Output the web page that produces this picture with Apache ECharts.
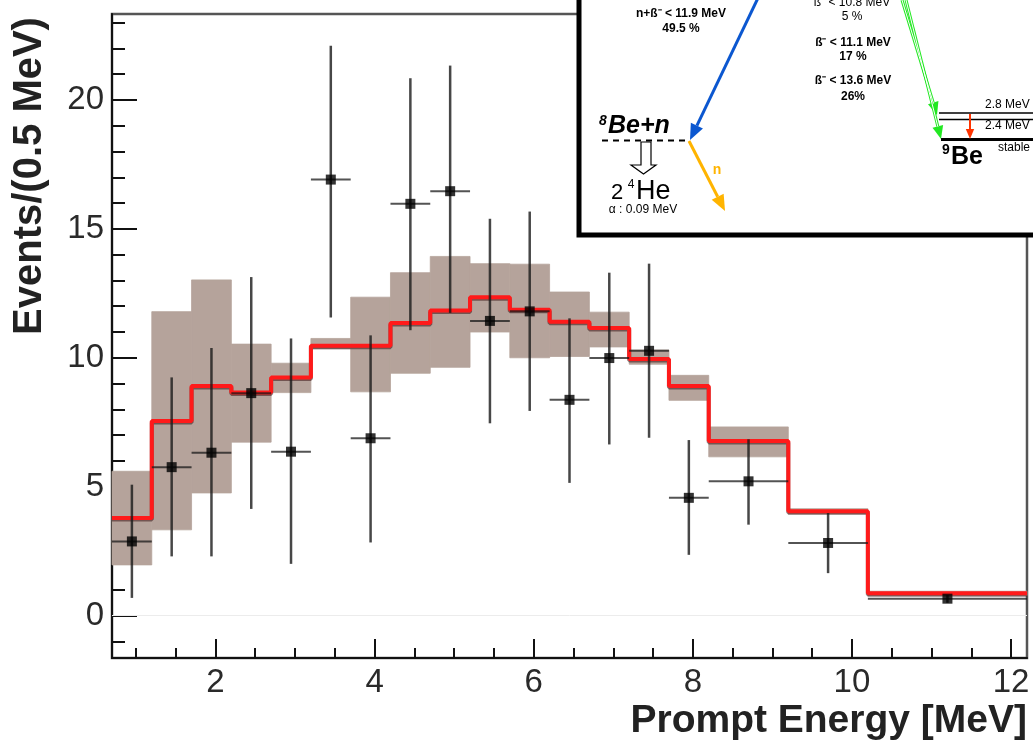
<!DOCTYPE html>
<html>
<head>
<meta charset="utf-8">
<script src="https://cdn.jsdelivr.net/npm/echarts@6/dist/echarts.min.js"></script>
<style>
html, body { margin: 0; padding: 0; background: #fff; }
#main { width: 1033px; height: 749px; }
</style>
</head>
<body>
<div id="main"></div>
<script>
// histogram bin edges [MeV]
const binEdges = [0.7, 1.2, 1.7, 2.2, 2.7, 3.2, 3.7, 4.2, 4.7, 5.2, 5.7, 6.2, 6.7, 7.2, 7.7, 8.2, 9.2, 10.2, 12.2];
// MC prediction (red histogram), one per bin
const mcValues = [3.79, 7.55, 8.91, 8.65, 9.24, 10.47, 10.47, 11.35, 11.83, 12.35, 11.86, 11.4, 11.16, 9.95, 8.91, 6.77, 4.05, 0.87];
// systematic band
const bandLow = [1.97, 3.33, 4.76, 6.73, 8.65, 10.35, 8.68, 9.4, 9.63, 11.0, 10.0, 10.05, 10.42, 9.75, 8.35, 6.16, 3.95, 0.78];
const bandHigh = [5.6, 11.79, 13.02, 10.53, 9.79, 10.75, 12.35, 13.3, 13.93, 13.65, 13.63, 12.55, 11.77, 10.3, 9.32, 7.32, 4.15, 0.95];
// data points
const dataX = [0.95, 1.45, 1.95, 2.45, 2.95, 3.45, 3.95, 4.45, 4.95, 5.45, 5.95, 6.45, 6.95, 7.45, 7.95, 8.7, 9.7, 11.2];
const dataY = [2.88, 5.76, 6.32, 8.63, 6.36, 16.91, 6.88, 15.97, 16.46, 11.43, 11.8, 8.37, 9.99, 10.27, 4.57, 5.21, 2.82, 0.66];
const errLow = [0.69, 2.3, 2.3, 4.14, 2.01, 11.56, 2.84, 11.07, 11.74, 7.46, 7.94, 5.15, 6.64, 6.9, 2.36, 3.53, 1.65, 0.5];
const errHigh = [5.08, 9.24, 10.38, 13.13, 10.75, 22.1, 10.87, 20.84, 21.33, 15.39, 15.67, 11.53, 13.3, 13.65, 6.81, 6.84, 3.98, 0.8];
// axis ticks
const xMajorTicks = [2, 4, 6, 8, 10, 12];
const xMinorTicks = [1, 1.5, 2.5, 3, 3.5, 4.5, 5, 5.5, 6.5, 7, 7.5, 8.5, 9, 9.5, 10.5, 11, 11.5];
const yMajorTicks = [0, 5, 10, 15, 20];
const yMinorTicks = [-1, 1, 2, 3, 4, 6, 7, 8, 9, 11, 12, 13, 14, 16, 17, 18, 19, 21, 22, 23];

const FONT = '"Liberation Sans", Arial, Helvetica, sans-serif';

let chart = echarts.init(document.getElementById('main'));

// step line points: left edge of each bin + closing right edge
let stepData = binEdges.map((e, i) => [e, mcValues[Math.min(i, mcValues.length - 1)]]);
let bandData = bandLow.map((lo, i) => [binEdges[i], binEdges[i + 1], lo, bandHigh[i]]);
let errData = dataX.map((x, i) => {
  let j = binEdges.findIndex((e, k) => x >= e && x < binEdges[k + 1]);
  return [x, dataY[i], errLow[i], errHigh[i], binEdges[j], binEdges[j + 1]];
});

function arrow(x1, y1, x2, y2, color, w, head) {
  let ang = Math.atan2(y2 - y1, x2 - x1);
  let bx = x2 - head * Math.cos(ang), by = y2 - head * Math.sin(ang);
  let hw = head * 0.42;
  let px = -Math.sin(ang) * hw, py = Math.cos(ang) * hw;
  return [
    { type: 'line', z: 101, shape: { x1: x1, y1: y1, x2: bx, y2: by }, style: { stroke: color, lineWidth: w } },
    { type: 'polygon', z: 101, shape: { points: [[x2, y2], [bx + px, by + py], [bx - px, by - py]] }, style: { fill: color } }
  ];
}
function txt(x, y, text, font, color, align) {
  return { type: 'text', z: 102, x: x, y: y,
    style: { text: text, font: font, fill: color || '#000', textAlign: align || 'center', textVerticalAlign: 'middle' } };
}

// inset: decay scheme
let inset = [
  { type: 'rect', z: 100, shape: { x: 579, y: -10, width: 470, height: 245 }, style: { fill: '#fff', stroke: '#000', lineWidth: 5 } },
  txt(681, 14, 'n+ß⁻ < 11.9 MeV', 'bold 12px ' + FONT),
  txt(681, 29, '49.5 %', 'bold 12px ' + FONT),
  txt(852, 3, 'ß⁻ < 10.8 MeV', '12px ' + FONT),
  txt(852, 17, '5 %', '12px ' + FONT),
  txt(853, 43, 'ß⁻ < 11.1 MeV', 'bold 12px ' + FONT),
  txt(853, 57, '17 %', 'bold 12px ' + FONT),
  txt(853, 81, 'ß⁻ < 13.6 MeV', 'bold 12px ' + FONT),
  txt(853, 97, '26%', 'bold 12px ' + FONT),
  // 8Be+n level
  { type: 'line', z: 101, shape: { x1: 602, y1: 140.5, x2: 689, y2: 140.5 }, style: { stroke: '#000', lineWidth: 2, lineDash: [6, 5] } },
  txt(603, 121, '8', 'bold italic 14px ' + FONT, '#000', 'center'),
  txt(608, 126, 'Be+n', 'bold italic 25px ' + FONT, '#000', 'left'),
  { type: 'polygon', z: 101, shape: { points: [[641, 142], [651, 142], [651, 165], [656, 165], [643.5, 174], [631, 165], [641, 165]] },
    style: { fill: '#fff', stroke: '#000', lineWidth: 1.2 } },
  txt(617, 193, '2', '22px ' + FONT, '#000', 'center'),
  txt(631, 185, '4', '12px ' + FONT, '#000', 'center'),
  txt(636, 192, 'He', '27px ' + FONT, '#000', 'left'),
  txt(643, 210, 'α : 0.09 MeV', '12px ' + FONT),
  txt(717, 170, 'n', 'bold 14px ' + FONT, '#ffb400'),
  // 9Be levels
  { type: 'line', z: 101, shape: { x1: 939, y1: 113, x2: 1040, y2: 113 }, style: { stroke: '#000', lineWidth: 1.5 } },
  { type: 'line', z: 101, shape: { x1: 939, y1: 119.5, x2: 1040, y2: 119.5 }, style: { stroke: '#000', lineWidth: 1.5 } },
  { type: 'line', z: 101, shape: { x1: 941, y1: 139.5, x2: 1040, y2: 139.5 }, style: { stroke: '#000', lineWidth: 3 } },
  txt(985, 105, '2.8 MeV', '12px ' + FONT, '#000', 'left'),
  txt(985, 126, '2.4 MeV', '12px ' + FONT, '#000', 'left'),
  txt(998, 148, 'stable', '12px ' + FONT, '#000', 'left'),
  txt(946, 150, '9', 'bold 14px ' + FONT, '#000', 'center'),
  txt(951, 157, 'Be', 'bold 25px ' + FONT, '#000', 'left')
];
inset = inset.concat(
  arrow(758, -2, 690, 140, '#0b57d0', 3, 16),
  arrow(689, 141, 725, 211, '#ffb400', 3, 16),
  arrow(902, 0, 937, 115, '#22e822', 3, 13),
  arrow(906, 0, 941, 139, '#22e822', 3, 13),
  [
    { type: 'line', z: 102, shape: { x1: 902, y1: 0, x2: 933.5, y2: 103.5 }, style: { stroke: '#fff', lineWidth: 1 } },
    { type: 'line', z: 102, shape: { x1: 906, y1: 0, x2: 937.8, y2: 126.5 }, style: { stroke: '#fff', lineWidth: 1 } }
  ],
  arrow(970, 114, 970, 139, '#ff3300', 2, 10)
);

let titles = [
  { type: 'text', z: 50, x: 1027, y: 721,
    style: { text: 'Prompt Energy [MeV]', font: 'bold 39px ' + FONT, fill: '#222', textAlign: 'right', textVerticalAlign: 'middle' } },
  { type: 'text', z: 50, x: 30, y: 176, rotation: Math.PI / 2,
    style: { text: 'Events/(0.5 MeV)', font: 'bold 40px ' + FONT, fill: '#222', textAlign: 'center', textVerticalAlign: 'middle' } }
];

let option = {
  animation: false,
  backgroundColor: '#fff',
  grid: { left: 112, right: 6, top: 14, bottom: 91, show: true, borderColor: '#555', borderWidth: 2.5, backgroundColor: 'transparent' },
  xAxis: [
    {
      type: 'value', min: 0.7, max: 12.2,
      axisLine: { show: true, onZero: false, lineStyle: { color: '#111', width: 2 } },
      axisTick: { show: true, inside: true, length: 19, customValues: xMajorTicks, lineStyle: { color: '#111', width: 2 } },
      axisLabel: { customValues: xMajorTicks, fontSize: 33, fontFamily: FONT, color: '#2a2a2a', margin: 8 },
      splitLine: { show: false }
    },
    {
      type: 'value', min: 0.7, max: 12.2, position: 'bottom',
      axisLine: { show: false, onZero: false },
      axisTick: { show: true, inside: true, length: 10, customValues: xMinorTicks, lineStyle: { color: '#111', width: 2 } },
      axisLabel: { show: false, customValues: xMinorTicks },
      splitLine: { show: false }
    }
  ],
  yAxis: [
    {
      type: 'value', min: -1.64, max: 23.33,
      axisLine: { show: true, onZero: false, lineStyle: { color: '#111', width: 2 } },
      axisTick: { show: true, inside: true, length: 25, customValues: yMajorTicks, lineStyle: { color: '#111', width: 2 } },
      axisLabel: { customValues: yMajorTicks, fontSize: 33, fontFamily: FONT, color: '#2a2a2a', margin: 8 },
      splitLine: { show: false }
    },
    {
      type: 'value', min: -1.64, max: 23.33, position: 'left',
      axisLine: { show: false, onZero: false },
      axisTick: { show: true, inside: true, length: 13, customValues: yMinorTicks, lineStyle: { color: '#111', width: 2 } },
      axisLabel: { show: false, customValues: yMinorTicks },
      splitLine: { show: false }
    }
  ],
  graphic: titles.concat(inset),
  series: [
    {
      name: 'band', type: 'custom', data: bandData, z: 2,
      encode: { x: [0, 1], y: [2, 3] },
      renderItem: function (params, api) {
        let p1 = api.coord([api.value(0), api.value(3)]);
        let p2 = api.coord([api.value(1), api.value(2)]);
        return { type: 'rect', shape: { x: p1[0], y: p1[1], width: p2[0] - p1[0], height: p2[1] - p1[1] },
          style: { fill: '#b5a39b', stroke: '#b5a39b', lineWidth: 0.8 } };
      },
      markLine: {
        silent: true, symbol: 'none', label: { show: false },
        lineStyle: { color: '#ececec', width: 1, type: 'solid' },
        data: [{ yAxis: 0 }]
      }
    },
    {
      name: 'MC', type: 'line', step: 'end', data: stepData, z: 3,
      showSymbol: false, symbol: 'none',
      lineStyle: { color: '#ff1a1a', width: 4, shadowColor: 'rgba(60,20,20,0.55)', shadowOffsetY: 1.5 }
    },
    {
      name: 'err', type: 'custom', data: errData, z: 4,
      encode: { x: [0, 4, 5], y: [1, 2, 3] },
      renderItem: function (params, api) {
        let c = api.coord([api.value(0), api.value(1)]);
        let lo = api.coord([api.value(0), api.value(2)]);
        let hi = api.coord([api.value(0), api.value(3)]);
        let l = api.coord([api.value(4), api.value(1)]);
        let r = api.coord([api.value(5), api.value(1)]);
        return { type: 'group', children: [
          { type: 'line', shape: { x1: lo[0], y1: lo[1], x2: hi[0], y2: hi[1] }, style: { stroke: 'rgba(25,25,25,0.8)', lineWidth: 2.5 } },
          { type: 'line', shape: { x1: l[0], y1: c[1], x2: r[0], y2: c[1] }, style: { stroke: 'rgba(25,25,25,0.75)', lineWidth: 2 } }
        ] };
      }
    },
    {
      name: 'data', type: 'scatter', z: 5,
      data: dataX.map((x, i) => [x, dataY[i]]),
      symbol: 'rect', symbolSize: 10, itemStyle: { color: '#000' }
    }
  ]
};
chart.setOption(option);
</script>
</body>
</html>
